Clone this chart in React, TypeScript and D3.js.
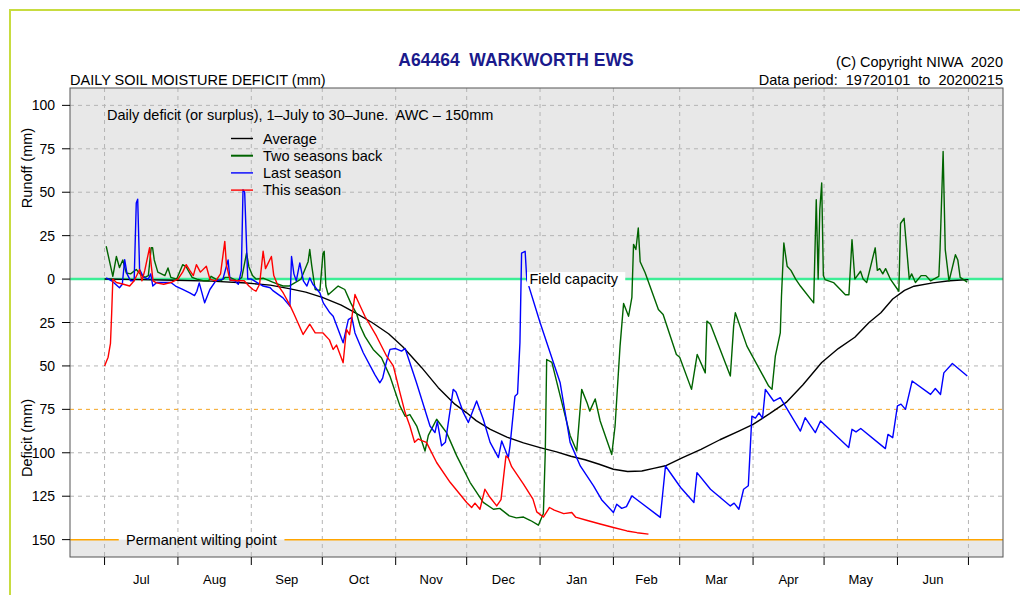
import React from "react";
import * as d3 from "d3";

type Pt = [number, number];

// day-of-season (0 = 1 July) and value (positive = runoff/surplus, negative = deficit)
const averageSeries: Pt[] = [
  [0, 0], [15, -0.3], [30, -0.7], [45, -1.2], [60, -2.3], [70, -3.5], [78, -5.5], [85, -7.5], [92, -10.5],
  [100, -15], [106, -19.5], [113, -25], [120, -31.5], [126, -39], [134, -51], [141, -62.5], [148, -72],
  [153, -77], [157, -81.5], [163, -86.5], [170, -91], [177, -94.3], [184, -97], [191, -99.5], [197, -102],
  [203, -104], [209, -106.6], [215, -109.5], [221, -110.8], [227, -110.5], [232, -109], [237, -107.5],
  [244, -103], [252, -98], [260, -92.5], [268, -87.5], [274, -83.6], [281, -77.5], [288, -71], [295, -61],
  [303, -48], [310, -40], [317, -33.5], [323, -25], [328, -19.4], [333, -11.5], [338, -6.5], [342, -4.1],
  [350, -2.2], [357, -1], [365, -0.3],
];

const twoSeasonsBack: Pt[] = [
  [0.7, 18.9], [3.5, 1.6], [5, 13], [6.3, 6.6], [7.7, 11], [9.2, 3.5], [11, 3], [13.4, 5.5], [15, 3], [17, 1],
  [18.5, 2], [19.7, 18], [20.3, 18], [21, 11], [22.5, 4], [24, 3], [25.5, 2], [26.8, 6.4], [28, 1], [30.5, 0],
  [33, 8.3], [34.5, 7], [37, 1], [39, 0], [42, -1], [44, -1], [45, 1.6], [47, 0], [49, -1], [51, 1], [53, 1],
  [56, -1], [58, 1], [60, 15], [61, 7], [62.5, 2], [64, 0], [67, 0.5], [71, -1.7], [75.4, -4], [78, -4],
  [80.5, -2], [83, 0], [86, 10], [86.7, 17], [87.5, 8], [89, -6], [91, -6.5], [92.3, 15], [92.8, 16],
  [93.5, -4], [94.5, -9], [98.7, -4], [101.5, -6], [104, -13.7], [106.5, -20], [108, -27], [110, -33],
  [113.5, -40.5], [117, -45.3], [120.6, -56], [124.8, -73], [127, -79], [129, -78], [131.9, -84.6],
  [135.4, -99], [136.8, -90], [140.3, -80.7], [142.4, -84.6], [144.5, -88.4], [148.8, -101.8], [154.4, -117],
  [160, -128.6], [164.3, -132.5], [167, -132], [171, -136.3], [174, -137.5], [177, -137], [180, -139],
  [183.3, -141.7], [185.4, -135], [186.2, -100], [186.8, -46.3], [189, -48], [193, -70], [196.7, -90],
  [199.5, -99], [201.6, -63.5], [203.8, -71], [205, -76], [207.3, -69], [209.4, -81.7], [214.3, -101],
  [215.7, -84.6], [216.4, -69], [217.8, -38.6], [219.3, -14], [221.4, -21.4], [222.8, -10.5], [223.5, 20],
  [224.5, 17], [225.5, 29.4], [226.3, 10], [228.4, 3.6], [234, -17.5], [236, -20.4], [241.6, -43.4],
  [243, -45], [248, -63.5], [250.4, -43.4], [253.8, -54], [254.5, -24.2], [256, -26], [264.4, -55.8],
  [265.8, -27.1], [266.5, -19.4], [271.4, -38.6], [280.6, -61.6], [282, -63.5], [283.4, -44.4], [285.5, -31],
  [286, -10], [287, 20.8], [288.4, 7.4], [290, 5], [292, 0], [294, -4], [299.6, -13.7], [300.7, 45.7],
  [301.5, 0], [302.2, 40], [303, 55.3], [303.7, 2], [304.4, -0.3], [308, -2], [313, -9], [314.5, -9],
  [315.8, 22.7], [317, 0], [319.4, 4.5], [320.5, 0], [322, -2], [325.6, 18], [326.5, 5], [327.5, 6],
  [328.8, 3], [330, 6], [332, 0], [335.6, -7], [336.3, 32], [337.8, 35], [340, 0], [341, 3], [342.6, -2],
  [345, 2], [347, 2], [349, -1], [352.5, 1.6], [353, 17], [354.3, 73.5], [355.2, 17], [356.8, -1.2],
  [359.5, 14], [360.5, 11], [361.5, 1], [364.5, -1.8],
];

const lastSeason: Pt[] = [
  [0.7, 0.7], [3, -1], [6.3, -5], [7.5, -3], [8.5, 11.2], [9.5, 3], [11, -1], [12.5, -1], [13.4, 43.8],
  [14, 46], [14.8, 5.5], [16.5, 1], [18.5, 0], [19.5, 3], [20.4, -4], [22, -2], [25, -2], [28, -2], [30, -4],
  [33, -6], [36, -8], [38, -9.5], [39, -7], [40, -2.2], [42.3, -13.7], [44.5, -6], [47, -1], [50, 0],
  [52.2, 11], [53, -0.5], [55, -1], [56.5, -3], [57.8, 5], [58.5, 51.4], [59.2, 50], [60.5, 0], [62, 0],
  [64.5, -2], [67, -4], [70, -5], [71, -6.5], [75.4, -10.8], [78.3, -15.6], [79, 13], [80, 3], [81, -1],
  [82.5, 9.3], [84, -1], [85.5, -4], [86.7, 0.7], [88, -3], [91, -8], [92.4, -13.7], [95.2, -19.4],
  [96.6, -21.4], [100.8, -36.7], [103, -23.3], [104.5, -22], [105.8, -31], [109.3, -42.4], [114.2, -55],
  [116.3, -59.7], [117.5, -57], [119, -48.2], [120.6, -40.5], [123, -40], [125.5, -41.5], [127, -40],
  [131.8, -59.7], [137.5, -84.6], [139.6, -88.4], [140.6, -82], [142.4, -96], [144, -94], [147.3, -63.5],
  [148.5, -65], [151.6, -76.9], [153.7, -82.6], [157.2, -70.2], [160, -80.7], [162.9, -94], [166.4, -102.8],
  [167.8, -93.2], [170.6, -102.8], [171.3, -96], [173.4, -67.4], [174.5, -66], [175.5, -36.7], [176.2, 15],
  [177.7, 16], [178.4, -0.3], [184, -25], [192.5, -59.7], [196.7, -94], [201, -107.6], [206.6, -119],
  [210, -127], [215, -134.4], [216.4, -129.6], [218.5, -132], [220.5, -131], [222.8, -124.8], [224, -126],
  [234.8, -137.2], [237, -107.6], [243.4, -120], [249, -128.6], [250.3, -111.4], [256, -121], [264.4, -130.6],
  [266, -129], [268, -132.5], [270, -121], [272, -119], [273.5, -78.9], [275, -80], [276.5, -77], [278, -80],
  [279.2, -63.5], [282.7, -70.2], [285.5, -68.3], [294, -87.5], [296, -79.8], [300.3, -88.4], [302.5, -81.7],
  [314.4, -97], [315.8, -86.5], [317.5, -88], [319.5, -86], [329.9, -97.6], [331, -89.4], [333, -91.3],
  [335, -73], [336.5, -72], [338.4, -75], [341.2, -58.7], [349, -66.4], [351, -63], [353.2, -66.4],
  [354.6, -54], [358.2, -48.6], [364.5, -55.8],
];

const thisSeason: Pt[] = [
  [0, -50], [1.5, -45], [2.5, -37], [3, -20], [3.5, 0], [5, -2], [8, -3], [10.6, -4], [12.5, -1], [14.8, 5.5],
  [15.8, -1], [17, 5], [19, 18], [19.8, 7], [20.5, -1], [21.9, -2.2], [25, -3], [28, -2], [31, 0], [33, 4],
  [34.5, 8.3], [36, 5], [37.5, 2], [38.8, 8.3], [40.5, 4], [43, 7.4], [44.5, 0], [47, -1], [49, 3],
  [50.8, 21.7], [51.5, 8], [53, -0.5], [56, -1], [59, -1], [61, -4], [62.7, -6], [64, -7], [65.5, -3],
  [67, 16], [68, 6], [70.5, 13], [71.5, 2], [73, -3], [75.5, -8], [78.3, -15], [80, -20], [83.9, -31.9],
  [86.7, -26], [89, -31], [92.3, -31], [95, -35], [96.6, -40.5], [98, -38], [100.8, -48.2], [102.2, -29],
  [103.5, -32], [105.8, -8.9], [106.5, -11], [110, -21.4], [114.9, -32.9], [119.2, -44.4], [122, -50],
  [124.8, -65.4], [127, -77], [129, -84.6], [131, -94], [132.5, -92], [134, -93], [136, -94],
  [140.3, -105.6], [146, -117], [153, -128.6], [155.1, -131.5], [156.5, -129], [158.6, -132.5],
  [160.7, -121], [162.5, -125], [165.7, -130.6], [167.5, -127], [169.6, -101.8], [170.6, -103], [172, -108],
  [177, -118], [181, -126.7], [182.6, -134], [185.4, -137], [188, -131.5], [190, -133], [194, -135],
  [197.4, -134.4], [199, -137], [204, -139], [209.4, -141], [215, -143], [220.7, -145], [225, -146],
  [229.8, -146.8],
];

const monthStarts = [0, 31, 62, 92, 123, 153, 184, 215, 243, 274, 304, 335, 365];
const monthLabels = ["Jul", "Aug", "Sep", "Oct", "Nov", "Dec", "Jan", "Feb", "Mar", "Apr", "May", "Jun"];
const yTicks = [100, 75, 50, 25, 0, -25, -50, -75, -100, -125, -150];

const legendLabels = ["Average", "Two seasons back", "Last season", "This season"];
const seriesColors = ["#000000", "#006400", "#0000ff", "#ff0000"];

const FONT = "'Liberation Sans', Arial, Helvetica, sans-serif";
const FS = 14.5;

export default function App() {
  const W = 1020;
  const H = 595;
  const left = 70, right = 1003, top = 88, bottom = 557;

  const x = d3.scaleLinear().domain([-14.6, 379.6]).range([left, right]);
  const y = d3.scaleLinear().domain([-160, 110]).range([bottom, top]);

  const line = d3
    .line<Pt>()
    .x((d) => x(d[0]))
    .y((d) => y(d[1]));

  const series = [averageSeries, twoSeasonsBack, lastSeason, thisSeason];
  const gridColor = "#b4b4b4";
  const pre = { whiteSpace: "pre" as const };

  return (
    <div style={{ position: "absolute", left: 0, top: 0 }}>
      <svg width={W} height={H} style={{ display: "block", fontFamily: FONT }}>
        <rect x={0} y={0} width={W} height={H} fill="#ffffff" />
        {/* page frame */}
        <rect x={10} y={10} width={W + 20} height={H + 20} fill="none" stroke="#c8dc40" strokeWidth={2} />

        <defs>
          <clipPath id="plotClip">
            <rect x={left} y={top} width={right - left} height={bottom - top} />
          </clipPath>
        </defs>

        {/* plot background */}
        <rect x={left} y={top} width={right - left} height={bottom - top} fill="#e8e8e8" />
        <rect x={left} y={y(0)} width={right - left} height={y(-150) - y(0)} fill="#ffffff" />

        {/* grid */}
        {monthStarts.map((d, i) => (
          <line key={"vg" + i} x1={x(d)} x2={x(d)} y1={top} y2={bottom} stroke={gridColor} strokeWidth={1} strokeDasharray="4,4" />
        ))}
        {yTicks
          .filter((v) => v !== 0 && v !== -150 && v !== -75)
          .map((v, i) => (
            <line key={"hg" + i} x1={left} x2={right} y1={y(v)} y2={y(v)} stroke={gridColor} strokeWidth={1} strokeDasharray="4,4" />
          ))}
        <line x1={left} x2={right} y1={y(-75)} y2={y(-75)} stroke="#f5a623" strokeWidth={1} strokeDasharray="4,4" />

        {/* field capacity */}
        <line x1={left} x2={right} y1={y(0)} y2={y(0)} stroke="#3cee96" strokeWidth={2.5} />
        {/* permanent wilting point */}
        <line x1={left} x2={x(6)} y1={y(-150)} y2={y(-150)} stroke="#ffa500" strokeWidth={1.5} />
        <line x1={x(76)} x2={right} y1={y(-150)} y2={y(-150)} stroke="#ffa500" strokeWidth={1.5} />

        {/* inner note */}
        <text x={107} y={115} fontSize={FS} dominantBaseline="central" fill="#000" style={pre}>
          {"Daily deficit (or surplus), 1\u2013July to 30\u2013June.  AWC \u2013 150mm"}
        </text>

        {/* series */}
        <g clipPath="url(#plotClip)">
          {series.map((s, i) => (
            <path key={"s" + i} d={line(s) || ""} fill="none" stroke={seriesColors[i]} strokeWidth={1.4} strokeLinejoin="round" />
          ))}
        </g>

        {/* labels on reference lines */}
        <rect x={x(178.5)} y={y(0) - 7} width={x(220) - x(178.5)} height={14} fill="#ffffff" />
        <text x={x(179.5)} y={y(0)} fontSize={FS} dominantBaseline="central" fill="#000">
          Field capacity
        </text>
        <text x={126} y={y(-150)} fontSize={FS} dominantBaseline="central" fill="#000">
          Permanent wilting point
        </text>

        {/* legend */}
        {legendLabels.map((lab, i) => (
          <g key={"lg" + i}>
            <line x1={231} x2={253} y1={138.5 + i * 17.2} y2={138.5 + i * 17.2} stroke={seriesColors[i]} strokeWidth={i === 1 ? 2 : 1.4} />
            <text x={263} y={138.5 + i * 17.2} fontSize={FS} dominantBaseline="central" fill="#000">
              {lab}
            </text>
          </g>
        ))}

        {/* plot border */}
        <rect x={left} y={top} width={right - left} height={bottom - top} fill="none" stroke="#555555" strokeWidth={1} />

        {/* y axis */}
        {yTicks.map((v, i) => (
          <g key={"yt" + i}>
            <line x1={62} x2={left} y1={y(v)} y2={y(v)} stroke="#000" strokeWidth={1} />
            <text x={55} y={y(v)} fontSize={14} textAnchor="end" dominantBaseline="central" fill="#000">
              {Math.abs(v)}
            </text>
          </g>
        ))}
        <text transform={`translate(27,${168}) rotate(-90)`} fontSize={FS} textAnchor="middle" dominantBaseline="central" fill="#000">
          Runoff (mm)
        </text>
        <text transform={`translate(27,${438}) rotate(-90)`} fontSize={FS} textAnchor="middle" dominantBaseline="central" fill="#000">
          Deficit (mm)
        </text>

        {/* x axis */}
        {monthStarts.map((d, i) => (
          <line key={"xt" + i} x1={x(d)} x2={x(d)} y1={bottom} y2={bottom + 8} stroke="#000" strokeWidth={1} />
        ))}
        {monthLabels.map((m, i) => (
          <text
            key={"xl" + i}
            x={x((monthStarts[i] + monthStarts[i + 1]) / 2)}
            y={579}
            fontSize={13}
            textAnchor="middle"
            dominantBaseline="central"
            fill="#000"
          >
            {m}
          </text>
        ))}

        {/* titles */}
        <text x={516} y={60} fontSize={17.5} fontWeight="bold" textAnchor="middle" dominantBaseline="central" fill="#1a1a8c" style={pre}>
          {"A64464  WARKWORTH EWS"}
        </text>
        <text x={70} y={80} fontSize={FS} dominantBaseline="central" fill="#000">
          DAILY SOIL MOISTURE DEFICIT (mm)
        </text>
        <text x={right} y={62} fontSize={FS} textAnchor="end" dominantBaseline="central" fill="#000" style={pre}>
          {"(C) Copyright NIWA  2020"}
        </text>
        <text x={right} y={80} fontSize={FS} textAnchor="end" dominantBaseline="central" fill="#000" style={pre}>
          {"Data period:  19720101  to  20200215"}
        </text>
      </svg>
    </div>
  );
}
